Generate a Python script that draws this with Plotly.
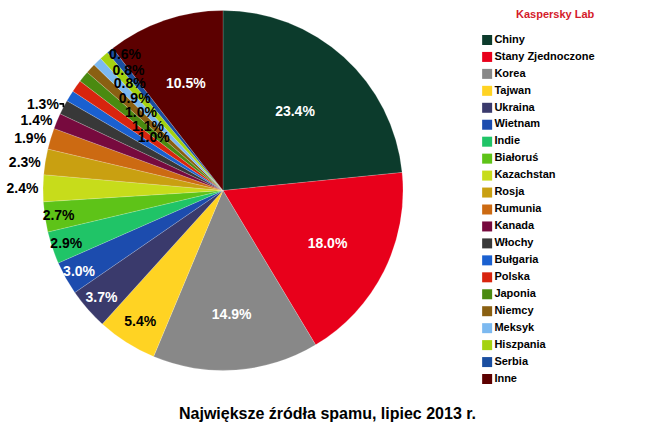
import plotly.graph_objects as go

countries = ["Chiny", "Stany Zjednoczone", "Korea", "Tajwan", "Ukraina", "Wietnam",
             "Indie", "Białoruś", "Kazachstan", "Rosja", "Rumunia", "Kanada", "Włochy",
             "Bułgaria", "Polska", "Japonia", "Niemcy", "Meksyk", "Hiszpania", "Serbia", "Inne"]
shares = [23.4, 18.0, 14.9, 5.4, 3.7, 3.0, 2.9, 2.7, 2.4, 2.3, 1.9, 1.4, 1.3,
          1.0, 1.1, 1.0, 0.9, 0.8, 0.8, 0.6, 10.5]
colors = ["#0c3b2c", "#e8001b", "#888888", "#ffd323", "#3a3a6c", "#1c4cae",
          "#20c467", "#5ec318", "#c7dc1b", "#c9a011", "#cc6a12", "#770a3e", "#383838",
          "#1a60d0", "#d8240e", "#4a8a10", "#8a6012", "#7cb9f0", "#a4d210", "#1a4ea0", "#5c0000"]
text_colors = ["white", "white", "white", "black", "white", "white",
               "black", "black", "black", "black", "black", "black", "black",
               "black", "black", "black", "black", "black", "black", "black", "white"]
positions = ["inside"] * 8 + ["outside"] * 5 + ["inside"] * 8

# labels that are drawn by separate, transparent pies (index, radius px, rotation deg)
label_layers = [(13, 90, 6.0), (14, 102, 5.2), (15, 117, 4.6), (16, 131, 3.6),
                (17, 146, 3.5), (18, 157, 3.4), (19, 171, 3.3), (20, 151, 0)]
layer_idx = [k for k, _, _ in label_layers]

W, H = 650, 434
CX, CY, R = 223, 190.5, 180
FONT = "Liberation Sans"

labels_txt = [f"{v:.1f}%" for v in shares]
main_txt = [("" if i in layer_idx else t) for i, t in enumerate(labels_txt)]


def dom(r):
    y0 = max(0.0, 1 - (CY + r) / H)
    y1 = min(1.0, 1 - (CY - r) / H)
    return dict(x=[(CX - r) / W, (CX + r) / W], y=[y0, y1])


fig = go.Figure()
fig.add_trace(go.Pie(
    labels=countries,
    values=shares,
    sort=False,
    direction="clockwise",
    rotation=0,
    marker=dict(colors=colors, line=dict(color="rgba(255,255,255,0.35)", width=0.5)),
    text=main_txt,
    textinfo="text",
    textposition=positions,
    insidetextorientation="horizontal",
    textfont=dict(family=FONT, size=14, color=text_colors, weight="bold"),
    outsidetextfont=dict(family=FONT, size=14, color="black", weight="bold"),
    domain=dom(R),
    showlegend=False,
    hoverinfo="label+percent",
))

for k, r, rot in label_layers:
    t = [(labels_txt[i] if i == k else "") for i in range(len(shares))]
    fig.add_trace(go.Pie(
        labels=countries,
        values=shares,
        sort=False,
        direction="clockwise",
        rotation=rot,
        marker=dict(colors=["rgba(0,0,0,0)"] * len(shares), line=dict(width=0)),
        text=t,
        textinfo="text",
        textposition="inside",
        insidetextorientation="horizontal",
        textfont=dict(family=FONT, size=14, color=text_colors[k], weight="bold"),
        domain=dom(r),
        showlegend=False,
        hoverinfo="skip",
    ))

# legend column (squares + names)
fig.add_trace(go.Scatter(
    x=[0] * len(countries),
    y=countries,
    mode="markers+text",
    marker=dict(symbol="square", size=10, color=colors),
    text=countries,
    textposition="middle right",
    textfont=dict(family=FONT, size=11, color="black", weight="bold"),
    showlegend=False,
    hoverinfo="skip",
    cliponaxis=False,
))

fig.update_layout(
    width=W, height=H,
    margin=dict(l=0, r=0, t=0, b=0),
    paper_bgcolor="white",
    plot_bgcolor="white",
    uniformtext=dict(minsize=14, mode="show"),
    showlegend=False,
    xaxis=dict(domain=[479 / W, 1], range=[-0.5, 10], visible=False, fixedrange=True),
    yaxis=dict(domain=[1 - 387.5 / H, 1 - 31.5 / H], type="category",
               categoryorder="array", categoryarray=countries,
               range=[len(countries) - 0.5, -0.5], visible=False, fixedrange=True),
    annotations=[dict(text="Kaspersky Lab", x=555 / W, y=1 - 14 / H,
                      xref="paper", yref="paper", xanchor="center", yanchor="middle",
                      showarrow=False,
                      font=dict(family=FONT, size=11, color="#d41a2a", weight="bold"))],
    title=dict(text="Największe źródła spamu, lipiec 2013 r.",
               x=327.5 / W, xanchor="center", y=1 - 413 / H, yanchor="middle",
               font=dict(family=FONT, size=16, color="black", weight="bold")),
)

fig.write_html("out.html", config={"displayModeBar": False},
               post_script="document.body.style.margin='0px';")
